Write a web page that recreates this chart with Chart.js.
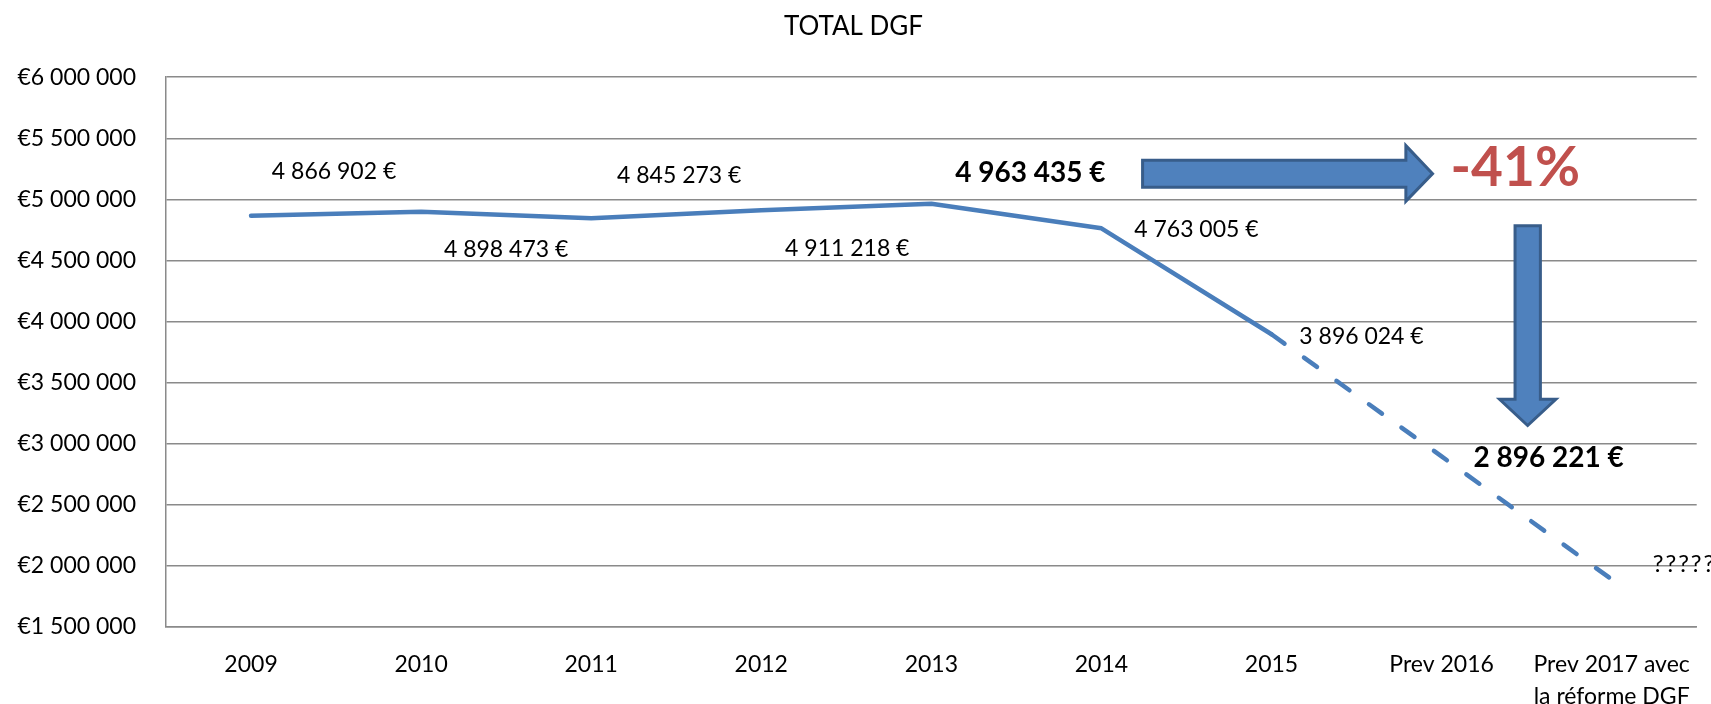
<!DOCTYPE html>
<html>
<head>
<meta charset="utf-8">
<script src="https://cdn.jsdelivr.net/npm/chart.js@4/dist/chart.umd.min.js"></script>
<style>
  html, body { margin: 0; padding: 0; background: #ffffff; }
  #wrap { width: 1711px; height: 704px; }
</style>
</head>
<body>
<div id="wrap"><canvas id="c" width="1711" height="704"></canvas></div>
<script>
// ---- data ----
const categories = ['2009', '2010', '2011', '2012', '2013', '2014', '2015', 'Prev 2016', ['Prev 2017 avec', 'la réforme DGF']];
const dgfValues = [4866902, 4898473, 4845273, 4911218, 4963435, 4763005, 3896024, 2896221, 1890000];
const valueLabels = ['4 866 902 €', '4 898 473 €', '4 845 273 €', '4 911 218 €', '4 963 435 €', '4 763 005 €', '3 896 024 €', '2 896 221 €', '?????'];
const boldLabels = [false, false, false, false, true, false, false, true, false];
const yMin = 1500000;
const yMax = 6000000;
const yStep = 500000;
const titleText = 'TOTAL DGF';
const changeText = '-41%';
const dashedFromIndex = 6;

// ---- label placement (pixels relative to each point) ----
const labelOffsets = [[83, -44], [85, 38], [88, -43], [86, 38], [99, -31], [95, 1], [90, 2], [107, 2], [41, -15]];
const labelAlign = ['center', 'center', 'center', 'center', 'center', 'center', 'center', 'center', 'left'];

// ---- annotation shapes, in (category index, value) units ----
const hArrow = { x0: 5.242, xb: 6.790, xt: 6.947, sTop: 5319700, sBot: 5098400, hTop: 5440200, hBot: 4983600, ty: 5210700 };
const vArrow = { sL: 7.432, sR: 7.581, hL: 7.341, hR: 7.672, tx: 7.506, top: 4784400, hb: 3364000, tip: 3149200 };
const changePos = { x: 7.053, y: 5106600 };

const FONT = 'Lato, Carlito, "Liberation Sans", sans-serif';
const LINE_COLOR = '#4A7EBB';
const GRID_COLOR = '#8a8a8a';

function fmtEuroAxis(v) {
  return '€' + String(v).replace(/\B(?=(\d{3})+(?!\d))/g, ' ');
}

const labelsPlugin = {
  id: 'valueLabels',
  afterDatasetsDraw(chart) {
    const ctx = chart.ctx;
    const meta = chart.getDatasetMeta(0);
    ctx.save();
    ctx.fillStyle = '#000000';
    ctx.textBaseline = 'middle';
    meta.data.forEach((pt, i) => {
      const bold = boldLabels[i];
      const isQ = labelAlign[i] === 'left';
      ctx.font = (bold ? 'bold 28px ' : (isQ ? '24px ' : '23px ')) + FONT;
      ctx.letterSpacing = isQ ? '2px' : '0px';
      ctx.textAlign = labelAlign[i];
      ctx.fillText(valueLabels[i], pt.x + labelOffsets[i][0], pt.y + labelOffsets[i][1]);
    });
    ctx.letterSpacing = '0px';
    ctx.restore();
  }
};

const arrowsPlugin = {
  id: 'arrows',
  afterDraw(chart) {
    const ctx = chart.ctx;
    const xs = chart.scales.x, ys = chart.scales.y;
    const X = v => xs.getPixelForValue(v);
    const Y = v => ys.getPixelForValue(v);
    ctx.save();
    ctx.fillStyle = '#4F81BD';
    ctx.strokeStyle = '#385D8A';
    ctx.lineWidth = 3;
    ctx.lineJoin = 'miter';
    // horizontal arrow
    const h = hArrow;
    ctx.beginPath();
    ctx.moveTo(X(h.x0), Y(h.sTop));
    ctx.lineTo(X(h.xb), Y(h.sTop));
    ctx.lineTo(X(h.xb), Y(h.hTop));
    ctx.lineTo(X(h.xt), Y(h.ty));
    ctx.lineTo(X(h.xb), Y(h.hBot));
    ctx.lineTo(X(h.xb), Y(h.sBot));
    ctx.lineTo(X(h.x0), Y(h.sBot));
    ctx.closePath();
    ctx.fill();
    ctx.stroke();
    // vertical arrow
    const v = vArrow;
    ctx.beginPath();
    ctx.moveTo(X(v.sL), Y(v.top));
    ctx.lineTo(X(v.sR), Y(v.top));
    ctx.lineTo(X(v.sR), Y(v.hb));
    ctx.lineTo(X(v.hR), Y(v.hb));
    ctx.lineTo(X(v.tx), Y(v.tip));
    ctx.lineTo(X(v.hL), Y(v.hb));
    ctx.lineTo(X(v.sL), Y(v.hb));
    ctx.closePath();
    ctx.fill();
    ctx.stroke();
    // -41%
    ctx.fillStyle = '#C0504D';
    ctx.font = 'bold 55px ' + FONT;
    ctx.textAlign = 'left';
    ctx.textBaseline = 'alphabetic';
    ctx.fillText(changeText, X(changePos.x), Y(changePos.y));
    ctx.restore();
  }
};

new Chart(document.getElementById('c'), {
  type: 'line',
  data: {
    labels: categories,
    datasets: [{
      data: dgfValues,
      borderColor: LINE_COLOR,
      borderWidth: 4.5,
      borderCapStyle: 'round',
      borderJoinStyle: 'round',
      pointRadius: 0,
      pointHoverRadius: 0,
      tension: 0,
      fill: false,
      segment: {
        borderDash: ctx => (ctx.p0DataIndex >= dashedFromIndex ? [16, 24] : undefined)
      }
    }]
  },
  options: {
    responsive: false,
    animation: false,
    events: [],
    layout: { padding: { left: 0, right: 4, top: 0, bottom: 0 } },
    plugins: {
      legend: { display: false },
      tooltip: { enabled: false },
      title: {
        display: true,
        text: titleText,
        color: '#000000',
        font: { family: FONT, size: 26, weight: 'normal', lineHeight: 1.2 },
        padding: { top: 11, bottom: 35 }
      }
    },
    scales: {
      x: {
        type: 'category',
        offset: true,
        grid: { display: false, drawTicks: false },
        border: { display: true, color: GRID_COLOR, width: 1.5 },
        ticks: {
          color: '#000000',
          font: { family: FONT, size: 23, lineHeight: 1.4 },
          padding: 21,
          maxRotation: 0,
          autoSkip: false
        },
        afterFit(scale) { scale.height = 77; }
      },
      y: {
        min: yMin,
        max: yMax,
        grid: { color: GRID_COLOR, lineWidth: 1.5, drawTicks: false },
        border: { display: true, color: GRID_COLOR, width: 1.5 },
        ticks: {
          stepSize: yStep,
          color: '#000000',
          font: { family: FONT, size: 23 },
          padding: 30,
          callback: v => fmtEuroAxis(v)
        },
        afterFit(scale) { scale.width = 166; }
      }
    }
  },
  plugins: [labelsPlugin, arrowsPlugin]
});
</script>
</body>
</html>
